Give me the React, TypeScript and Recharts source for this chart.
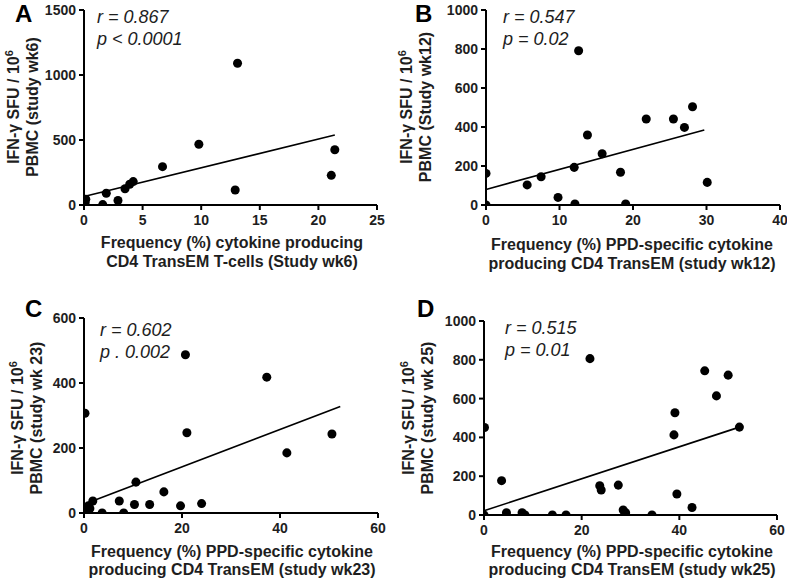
import { ScatterChart, Scatter, XAxis, YAxis, ReferenceLine } from "recharts";

// Panel A (study wk6)
const xA = [0, 0.1, 0.15, 1.6, 1.9, 2.9, 3.5, 3.9, 4.2, 6.7, 9.8, 12.9, 13.1, 21.1, 21.4];
const yA = [0, 20, 45, 3, 90, 35, 125, 160, 180, 295, 467, 115, 1090, 228, 425];
const fitA = [{ x: 0, y: 65 }, { x: 21.4, y: 538 }];

// Panel B (study wk12)
const xB = [0, 0, 5.6, 7.5, 9.8, 12.0, 12.1, 12.6, 13.8, 15.8, 18.3, 19.0, 21.8, 25.5, 27.0, 28.1, 30.1];
const yB = [162, 0, 103, 145, 39, 193, 5, 791, 359, 263, 168, 5, 441, 441, 398, 504, 116];
const fitB = [{ x: 0, y: 80 }, { x: 29.7, y: 385 }];

// Panel C (study wk23)
const xC = [0, 0.2, 0.3, 0.7, 0.9, 1.2, 1.8, 3.7, 7.2, 8.1, 10.3, 10.6, 13.4, 16.3, 19.7, 20.7, 21.0, 24.0, 37.3, 41.4, 50.6];
const yC = [0, 307, 10, 0, 22, 14, 37, 0, 37, 0, 26, 95, 26, 65, 22, 487, 247, 29, 418, 185, 243];
const fitC = [{ x: 0, y: 27 }, { x: 52.3, y: 328 }];

// Panel D (study wk25)
const xD = [0, 0.1, 3.6, 4.6, 7.8, 8.4, 14.0, 16.8, 21.7, 23.7, 24.0, 27.5, 28.5, 29.0, 34.4, 38.9, 39.1, 39.5, 42.6, 45.2, 47.6, 50.0, 52.3];
const yD = [0, 451, 177, 12, 12, 0, 0, 0, 806, 151, 129, 154, 26, 12, 0, 413, 527, 108, 39, 743, 614, 721, 453];
const fitD = [{ x: 0, y: 22 }, { x: 52.3, y: 453 }];

const FONT = '"Liberation Sans", Arial, sans-serif';
const INK = "#1e1e1e";

type PanelProps = {
  left: number;
  top: number;
  width: number;
  height: number;
  margin: { top: number; right: number; bottom: number; left: number };
  xs: number[];
  ys: number[];
  fit: { x: number; y: number }[];
  xMax: number;
  xTicks: number[];
  yMax: number;
  yTicks: number[];
};

function Panel(p: PanelProps) {
  const pts = p.xs.map((x, i) => ({ x, y: p.ys[i] }));
  const axis = { stroke: "#000", strokeWidth: 2 };
  const tick = { fontSize: 14, fontWeight: 700, fill: INK, fontFamily: FONT };
  return (
    <div style={{ position: "absolute", left: p.left, top: p.top }}>
      <ScatterChart width={p.width} height={p.height} margin={p.margin}>
        <XAxis
          type="number"
          dataKey="x"
          domain={[0, p.xMax]}
          ticks={p.xTicks}
          height={30}
          axisLine={axis}
          tickLine={axis}
          tickSize={5}
          tickMargin={5}
          tick={tick}
          allowDataOverflow
        />
        <YAxis
          type="number"
          dataKey="y"
          domain={[0, p.yMax]}
          ticks={p.yTicks}
          width={60}
          axisLine={axis}
          tickLine={axis}
          tickSize={5}
          tickMargin={3}
          tick={tick}
          allowDataOverflow
        />
        <ReferenceLine
          segment={p.fit}
          stroke="#000"
          strokeWidth={1.6}
          ifOverflow="visible"
        />
        <Scatter data={pts} fill="#000" isAnimationActive={false} shape="circle" r={5.5} />
      </ScatterChart>
    </div>
  );
}

function Txt(props: { x: number; y: number; children: React.ReactNode; style?: React.CSSProperties }) {
  return (
    <div
      style={{
        position: "absolute",
        left: props.x,
        top: props.y,
        fontFamily: FONT,
        color: INK,
        whiteSpace: "nowrap",
        lineHeight: 1,
        ...props.style,
      }}
    >
      {props.children}
    </div>
  );
}

function XTitle(props: { cx: number; top: number; lh: number; lines: string[] }) {
  return (
    <div
      style={{
        position: "absolute",
        left: props.cx - 200,
        top: props.top,
        width: 400,
        textAlign: "center",
        fontFamily: FONT,
        fontWeight: 700,
        fontSize: 16,
        lineHeight: props.lh + "px",
        color: INK,
      }}
    >
      {props.lines.map((l) => (
        <div key={l}>{l}</div>
      ))}
    </div>
  );
}

function YTitle(props: { cx: number; cy: number; second: string }) {
  return (
    <div
      style={{
        position: "absolute",
        left: props.cx - 100,
        top: props.cy - 19,
        width: 200,
        height: 38,
        textAlign: "center",
        fontFamily: FONT,
        fontWeight: 700,
        fontSize: 16,
        lineHeight: "19px",
        color: INK,
        transform: "rotate(-90deg)",
        whiteSpace: "nowrap",
      }}
    >
      <div>
        IFN-γ SFU / 10<sup style={{ fontSize: 11, lineHeight: 0 }}>6</sup>
      </div>
      <div>{props.second}</div>
    </div>
  );
}

function Note(props: { x: number; y: number; r: string; p: string }) {
  const s: React.CSSProperties = { fontStyle: "italic", fontSize: 18 };
  return (
    <>
      <Txt x={props.x} y={props.y} style={s}>{props.r}</Txt>
      <Txt x={props.x} y={props.y + 22} style={s}>{props.p}</Txt>
    </>
  );
}

function Letter(props: { x: number; y: number; t: string }) {
  return (
    <Txt x={props.x} y={props.y} style={{ fontSize: 24, fontWeight: 700, color: "#000" }}>
      {props.t}
    </Txt>
  );
}

export default function App() {
  return (
    <div
      style={{
        position: "absolute",
        left: 0,
        top: 0,
        width: 787,
        height: 581,
        background: "#fff",
        overflow: "hidden",
      }}
    >
      <Panel
        left={0}
        top={0}
        width={390}
        height={290}
        margin={{ top: 10, right: 13, bottom: 55, left: 24 }}
        xs={xA}
        ys={yA}
        fit={fitA}
        xMax={25}
        xTicks={[0, 5, 10, 15, 20, 25]}
        yMax={1500}
        yTicks={[0, 500, 1000, 1500]}
      />
      <Panel
        left={390}
        top={0}
        width={397}
        height={290}
        margin={{ top: 10, right: 7, bottom: 55, left: 36 }}
        xs={xB}
        ys={yB}
        fit={fitB}
        xMax={40}
        xTicks={[0, 10, 20, 30, 40]}
        yMax={1000}
        yTicks={[0, 200, 400, 600, 800, 1000]}
      />
      <Panel
        left={0}
        top={290}
        width={390}
        height={291}
        margin={{ top: 28, right: 12, bottom: 38, left: 24 }}
        xs={xC}
        ys={yC}
        fit={fitC}
        xMax={60}
        xTicks={[0, 20, 40, 60]}
        yMax={600}
        yTicks={[0, 200, 400, 600]}
      />
      <Panel
        left={390}
        top={290}
        width={397}
        height={291}
        margin={{ top: 31, right: 10, bottom: 36, left: 34 }}
        xs={xD}
        ys={yD}
        fit={fitD}
        xMax={60}
        xTicks={[0, 20, 40, 60]}
        yMax={1000}
        yTicks={[0, 200, 400, 600, 800, 1000]}
      />

      <Letter x={15} y={2} t="A" />
      <Letter x={415} y={2} t="B" />
      <Letter x={25} y={297} t="C" />
      <Letter x={417} y={297} t="D" />

      <Note x={97} y={8} r="r = 0.867" p="p < 0.0001" />
      <Note x={503} y={8} r="r = 0.547" p="p = 0.02" />
      <Note x={100} y={321} r="r = 0.602" p="p . 0.002" />
      <Note x={505} y={319} r="r = 0.515" p="p = 0.01" />

      <YTitle cx={23} cy={107} second="PBMC (study wk6)" />
      <YTitle cx={416} cy={107} second="PBMC (Study wk12)" />
      <YTitle cx={27} cy={418} second="PBMC (study wk 23)" />
      <YTitle cx={418} cy={418} second="PBMC (study wk 25)" />

      <XTitle cx={232} top={233} lh={19} lines={["Frequency (%) cytokine producing", "CD4 TransEM T-cells (Study wk6)"]} />
      <XTitle cx={632} top={235} lh={19} lines={["Frequency (%) PPD-specific cytokine", "producing CD4 TransEM (study wk12)"]} />
      <XTitle cx={232} top={543} lh={18} lines={["Frequency (%) PPD-specific cytokine", "producing CD4 TransEM (study wk23)"]} />
      <XTitle cx={632} top={543} lh={18} lines={["Frequency (%) PPD-specific cytokine", "producing CD4 TransEM (study wk25)"]} />
    </div>
  );
}
